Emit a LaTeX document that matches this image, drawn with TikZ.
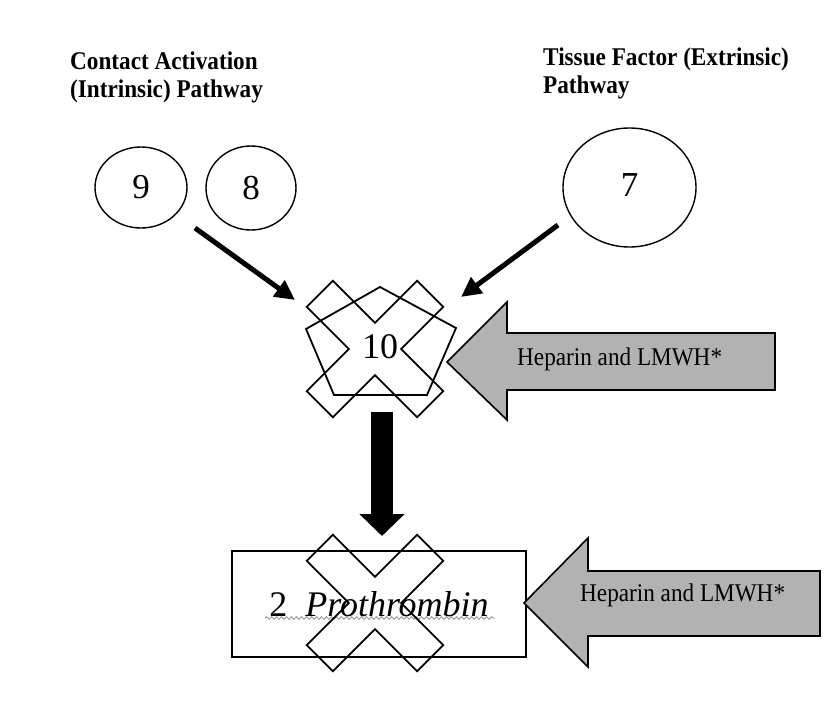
\documentclass[tikz,border=0pt]{standalone}
\usepackage{fontspec}
\setmainfont{Liberation Serif}
\newfontfamily\narrowfont[FakeStretch=0.91]{Liberation Serif}
\usetikzlibrary{arrows.meta,shapes.geometric,decorations.pathmorphing}

\def\armlen{78}
\def\armwid{18.5}
\definecolor{drugfill}{RGB}{178,178,178}

\begin{document}
\begin{tikzpicture}[x=1pt,y=-1pt,line join=miter]
      \tikzstyle{factor}=[ellipse, draw, line width=1.4pt, inner sep=0pt, font=\fontsize{35}{35}\selectfont]
      \tikzstyle{pathway}=[align=left, anchor=north west, inner sep=0pt, font=\narrowfont\fontsize{25.5}{28}\selectfont\bfseries]
      \tikzstyle{feed}=[line width=5pt, -{Triangle[length=20pt,width=19pt]}]
      \tikzstyle{blocker}=[draw, line width=1.8pt]
      \tikzstyle{drugarrow}=[draw, line width=1.6pt, fill=drugfill]
      \tikzstyle{drug}=[anchor=base west, inner sep=0pt, font=\narrowfont\fontsize{25.5}{25.5}\selectfont]

      \useasboundingbox (0,0) rectangle (828,715);

      % Draw the pathway titles
      \node[pathway] (intrinsic) at (70,52) {Contact Activation\\(Intrinsic) Pathway};
      \node[pathway] (extrinsic) at (543,48) {Tissue Factor (Extrinsic)\\Pathway};

      % Draw the clotting factors
      \node[factor, minimum width=92pt, minimum height=81pt] (F9) at (141,187.5) {9};
      \node[factor, minimum width=90pt, minimum height=84pt] (F8) at (251,188) {8};
      \node[factor, minimum width=133pt, minimum height=119pt] (F7) at (629.5,187.5) {\raisebox{5pt}{7}};

      % Factor 10 and the cross over it
      \draw[blocker] (380,287) -- (456,328) -- (427,395) -- (334,395) -- (306,329) -- cycle;
      \node[font=\fontsize{36}{36}\selectfont] (F10) at (380,347) {10};

      % Prothrombin box
      \node[draw, line width=1.6pt, minimum width=294pt, minimum height=106pt,
            font=\fontsize{36}{36}\selectfont] (F2) at (379,604) {2\hspace{0.5em}\textit{Prothrombin}};
      \draw[gray!80, line width=0.9pt, decorate,
            decoration={snake, amplitude=1.3pt, segment length=5pt}] (265,618) -- (495,618);

      % Both crosses
      \foreach \cy in {349,603}
          \draw[blocker, shift={(375,\cy)}, rotate=45]
              (\armwid,\armwid) -- (\armwid,\armlen) -- (-\armwid,\armlen) -- (-\armwid,\armwid)
              -- (-\armlen,\armwid) -- (-\armlen,-\armwid) -- (-\armwid,-\armwid) -- (-\armwid,-\armlen)
              -- (\armwid,-\armlen) -- (\armwid,-\armwid) -- (\armlen,-\armwid) -- (\armlen,\armwid) -- cycle;

      % Connect the pathways to factor 10
      \coordinate (in-start) at (195,228);
      \coordinate (in-end) at (295,300);
      \coordinate (ex-start) at (558,225);
      \coordinate (ex-end) at (461,297);
      \draw[feed] (in-start) -- (in-end);
      \draw[feed] (ex-start) -- (ex-end);

      % Factor 10 to prothrombin
      \coordinate (down-start) at (382,412);
      \coordinate (down-end) at (382,536);
      \draw[line width=22pt, -{Triangle[length=22pt,width=44pt]}] (down-start) -- (down-end);

      % Heparin arrows
      \draw[drugarrow] (447,362) -- (507,302) -- (507,333) -- (775,333) -- (775,390)
          -- (507,390) -- (507,420) -- cycle;
      \node[drug] (hep1) at (517,365) {Heparin and LMWH*};
      \draw[drugarrow] (524,603) -- (588,538) -- (588,571) -- (820,571) -- (820,636)
          -- (588,636) -- (588,667) -- cycle;
      \node[drug] (hep2) at (580,601) {Heparin and LMWH*};
  \end{tikzpicture}
\end{document}
